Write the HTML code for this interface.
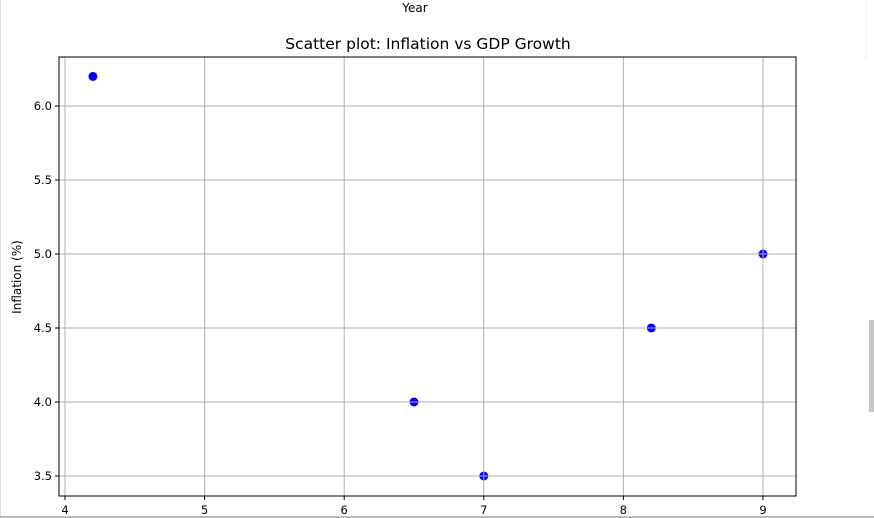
<!DOCTYPE html>
<html><head><meta charset="utf-8"><style>
html,body{margin:0;padding:0;background:#fff;width:874px;height:518px;overflow:hidden}
svg{display:block;font-family:"DejaVu Sans","Liberation Sans",sans-serif}
</style></head><body>
<svg width="874" height="518">
<rect x="0" y="0" width="874" height="518" fill="#fff"/>
<line x1="0.5" y1="0" x2="0.5" y2="518" stroke="#ddd"/>
<line x1="866" y1="0" x2="866" y2="60" stroke="#eee"/>
<rect x="869" y="320" width="5" height="92" fill="#c8c8c8"/>
<rect x="0" y="516" width="874" height="2" fill="#bbb"/>
<text x="415" y="12" font-size="12" text-anchor="middle">Year</text>
<text x="428" y="49" font-size="15.5" text-anchor="middle">Scatter plot: Inflation vs GDP Growth</text>
<text transform="translate(21,277) rotate(-90)" font-size="12" text-anchor="middle">Inflation (%)</text>
<g id="plot"></g>
</svg>
<script>
const xValues=[4.2,6.5,7.0,8.2,9.0];
const yValues=[6.2,4.0,3.5,4.5,5.0];
const xTicks=[4,5,6,7,8,9];
const yTicks=[3.5,4.0,4.5,5.0,5.5,6.0];
const L=59,R=796,T=57,B=496;
const xs=v=>65+(v-4)*139.6;
const ys=v=>476-(v-3.5)*148;
const NS="http://www.w3.org/2000/svg";
const g=document.getElementById('plot');
function mk(t,a){const e=document.createElementNS(NS,t);for(const k in a)e.setAttribute(k,a[k]);g.appendChild(e);return e;}
xValues.forEach((x,i)=>{
 const c=mk('circle',{cx:xs(x),cy:ys(yValues[i]),r:4.5,fill:'#0000ff'});
 
 
});
xTicks.forEach(t=>{
 const x=xs(t);
 const l=mk('line',{x1:x,y1:T,x2:x,y2:B,stroke:'#b0b0b0','stroke-width':1});
 
 
 mk('line',{x1:x,y1:B,x2:x,y2:B+4,stroke:'#000'});
 const tx=mk('text',{x:x,y:B+18,'font-size':11.5,'text-anchor':'middle'});
 tx.textContent=t;
 
 
});
yTicks.forEach(t=>{
 const y=ys(t);
 const l=mk('line',{x1:L,y1:y,x2:R,y2:y,stroke:'#b0b0b0','stroke-width':1});
 
 
 mk('line',{x1:L-4,y1:y,x2:L,y2:y,stroke:'#000'});
 const tx=mk('text',{x:L-7,y:y+4,'font-size':11.5,'text-anchor':'end'});
 tx.textContent=t.toFixed(1);
 
 
});
const f=mk('rect',{x:L,y:T,width:R-L,height:B-T,fill:'none',stroke:'#000','stroke-width':1});


</script>
</body></html>
